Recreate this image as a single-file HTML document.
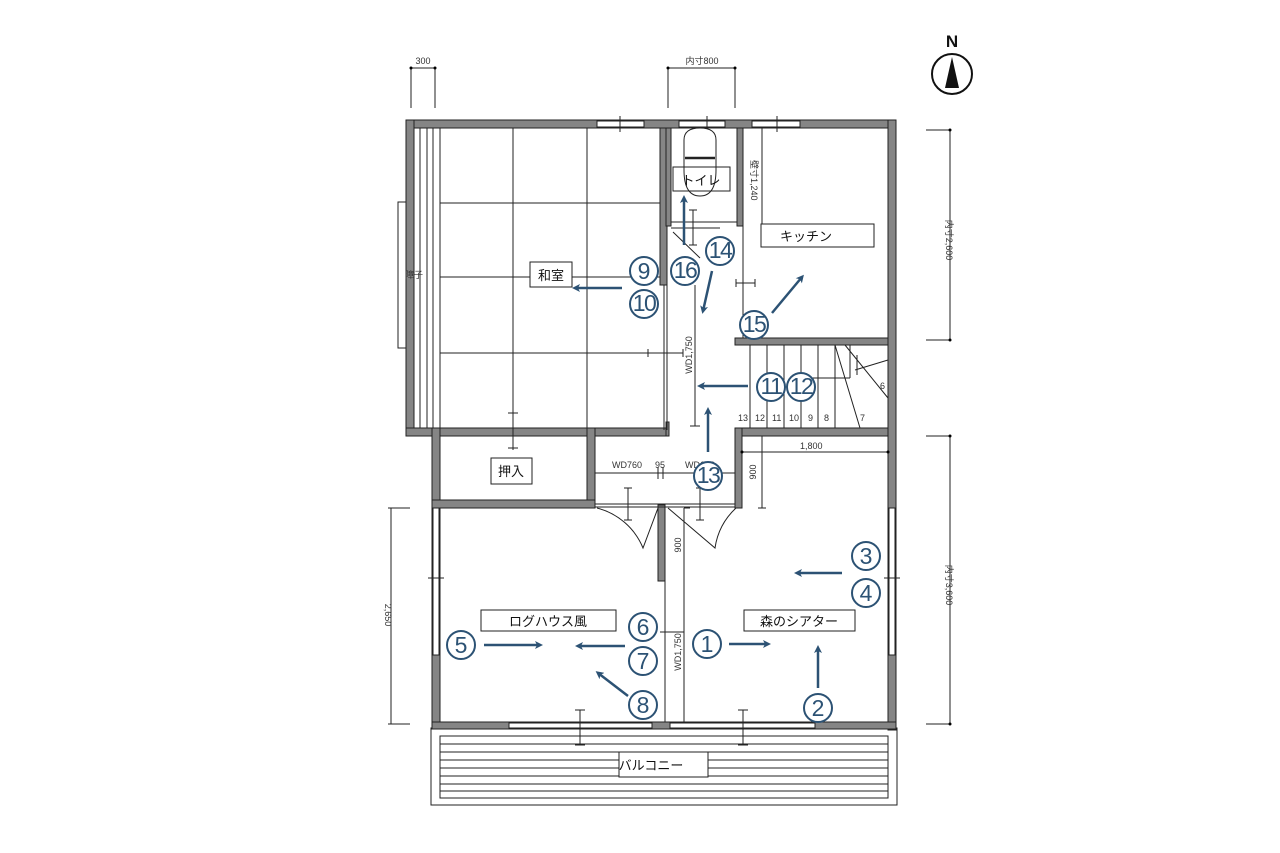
<!DOCTYPE html>
<html><head><meta charset="utf-8"><style>
html,body{margin:0;padding:0;background:#fff;width:1280px;height:853px;overflow:hidden}
svg{display:block}
text{font-family:"Liberation Sans","Noto Sans CJK JP",sans-serif}
.w{fill:#858585;stroke:#222;stroke-width:1}
.l{stroke:#222;stroke-width:1;fill:none}
.c circle{fill:#fff;stroke:#2c5274;stroke-width:2}
.c text{fill:#2c5274;font-size:23px;text-anchor:middle}
.a{stroke:#2c5274;stroke-width:2.5;fill:none;marker-end:url(#ah)}
.lb{fill:#fff;stroke:#222;stroke-width:1}
.t{font-size:13px;fill:#111;text-anchor:middle}
.d{font-size:9px;fill:#333}
</style></head><body>
<svg width="1280" height="853" viewBox="0 0 1280 853" xmlns="http://www.w3.org/2000/svg">
<defs><marker id="ah" markerWidth="8" markerHeight="8" refX="5" refY="4" orient="auto" markerUnits="userSpaceOnUse"><path d="M0,0 L8,4 L0,8 L2,4 Z" fill="#2c5274"/></marker></defs>

<g class="l"><path d="M411,68V108 M435,68V108 M411,68H435 M668,68V108 M735,68V108 M668,68H735"/></g>
<circle cx="411" cy="68" r="1.5"/><circle cx="435" cy="68" r="1.5"/><circle cx="668" cy="68" r="1.5"/><circle cx="735" cy="68" r="1.5"/>
<text x="423" y="64" class="d" text-anchor="middle">300</text>
<text x="702" y="64" class="d" text-anchor="middle">内寸800</text>
<circle cx="952" cy="74" r="20" fill="#fff" stroke="#111" stroke-width="2"/>
<path d="M952,57 L945,88 L959,88 Z" fill="#111"/>
<text x="952" y="47" font-size="17" font-weight="bold" text-anchor="middle" fill="#111">N</text>
<g class="l"><path d="M926,130H950 M950,130V340 M926,340H950 M926,436H950 M950,436V724 M926,724H950 M388,508H410 M391,508V724 M388,724H410"/></g>
<circle cx="950" cy="130" r="1.5"/><circle cx="950" cy="340" r="1.5"/><circle cx="950" cy="436" r="1.5"/><circle cx="950" cy="724" r="1.5"/>
<text class="d" transform="translate(946,240) rotate(90)" text-anchor="middle">内寸2,600</text>
<text class="d" transform="translate(946,585) rotate(90)" text-anchor="middle">内寸3,600</text>
<text class="d" transform="translate(385,615) rotate(90)" text-anchor="middle">2,650</text>

<rect x="431" y="728" width="466" height="77" fill="#fff" stroke="#222"/>
<rect x="440" y="736" width="448" height="62" fill="#fff" stroke="#222"/>
<g class="l"><path d="M440,744H888 M440,752H888 M440,760H888 M440,768H888 M440,776H888 M440,784H888 M440,791H888"/></g>

<g class="w">
<rect x="406" y="120" width="490" height="8"/>
<rect x="406" y="120" width="8" height="316"/>
<rect x="888" y="120" width="8" height="610"/>
<rect x="406" y="428" width="34" height="8"/>
<rect x="432" y="428" width="8" height="300"/>
<rect x="432" y="722" width="464" height="7"/>
<rect x="660" y="128" width="7" height="157"/>
<rect x="666" y="128" width="5" height="98"/>
<rect x="737" y="128" width="6" height="98"/>
<rect x="666" y="422" width="3" height="14"/>
<rect x="440" y="428" width="226" height="8"/>
<rect x="735" y="338" width="153" height="7"/>
<rect x="735" y="428" width="153" height="8"/>
<rect x="735" y="428" width="7" height="80"/>
<rect x="587" y="428" width="8" height="80"/>
<rect x="595" y="428" width="71" height="8"/>
<rect x="432" y="500" width="163" height="8"/>
<rect x="658" y="505" width="7" height="76"/>
</g>
<g fill="#fff" stroke="#222">
<rect x="597" y="121" width="47" height="6"/><rect x="679" y="121" width="46" height="6"/><rect x="752" y="121" width="48" height="6"/>
<rect x="889" y="508" width="6" height="147"/><rect x="433" y="508" width="6" height="147"/>
<rect x="509" y="723" width="143" height="5"/><rect x="670" y="723" width="145" height="5"/>
</g>
<rect x="398" y="202" width="8" height="146" fill="#fff" stroke="#222"/>
<g class="l"><path d="M620,116V132 M707,116V132 M777,116V132 M884,578H900 M428,578H444 M580,710V745 M575,710H585 M575,745H585 M743,710V745 M738,710H748 M738,745H748"/></g>

<g class="l">
<path d="M420,128V428 M427,128V428 M433,128V428 M440,128V428"/>
<path d="M513,128V428 M587,128V428 M440,203H660 M440,277H660 M440,353H660"/>
<path d="M667,285V430 M664,285V430"/>
<path d="M648,353H683 M648,349V357 M683,349V357 M513,413V450 M508,413H518 M508,448H518"/>
</g>
<text x="405" y="278" class="d">障子</text>

<g class="l">
<path d="M671,222H737 M671,228H720 M671,222V226"/>
<path d="M684,140 Q684,128 700,128 Q716,128 716,140 L716,170 Q716,196 700,196 Q684,196 684,170 Z" fill="#fff"/>
<path d="M685,158H715" stroke-width="2.5"/>
<path d="M693,210V245 M689,210H697 M689,245H697"/>
<path d="M673,232 L700,258"/>
</g>
<rect x="673" y="167" width="57" height="24" fill="none" stroke="#222"/>
<text x="701" y="185" class="t" fill="#777">トイレ</text>
<text class="d" transform="translate(751,160) rotate(90)">壁寸1,240</text>
<g class="l"><path d="M762,128V230 M736,283H755 M736,279V287 M755,279V287 M743,226V338"/></g>
<circle cx="762" cy="230" r="1.5"/>

<g class="l"><path d="M695,285V426 M690,426H700"/></g>
<text class="d" transform="translate(692,355) rotate(-90)" text-anchor="middle">WD1,750</text>

<g class="l">
<path d="M750,345V428 M767,345V428 M784,345V428 M801,345V428 M818,345V428 M835,345V428 M850,345V378 M850,378H790"/>
<path d="M835,345 L860,428 M845,345 L888,398 M855,370 L888,360 M857,355V375"/>
</g>
<g class="d" font-size="7"><text x="738" y="421">13</text><text x="755" y="421">12</text><text x="772" y="421">11</text><text x="789" y="421">10</text><text x="808" y="421">9</text><text x="824" y="421">8</text><text x="860" y="421">7</text><text x="880" y="389">6</text></g>

<g class="l"><path d="M595,473H735 M658,467V479 M663,467V479 M628,488V520 M624,488H632 M624,520H632 M700,488V520 M696,488H704 M696,520H704"/>
<path d="M742,452H888 M762,436V508 M758,508H766"/>
<path d="M595,504H735 M595,507H735"/>
<path d="M597,508 A68,68 0 0 1 643,548 L658,508 M736,508 A68,68 0 0 0 715,548 L668,508"/>
<path d="M665,508V722 M684,508V722 M660,632H684 M684,508H690"/>
</g>
<circle cx="742" cy="452" r="1.5"/><circle cx="888" cy="452" r="1.5"/>
<text x="612" y="468" class="d">WD760</text><text x="655" y="468" class="d">95</text><text x="685" y="468" class="d">WD650</text>
<text x="800" y="449" class="d">1,800</text>
<text class="d" transform="translate(756,472) rotate(-90)" text-anchor="middle">900</text>
<text class="d" transform="translate(681,545) rotate(-90)" text-anchor="middle">900</text>
<text class="d" transform="translate(681,652) rotate(-90)" text-anchor="middle">WD1,750</text>

<rect x="530" y="262" width="42" height="25" class="lb"/><text x="551" y="280" class="t" fill="#666">和室</text>
<rect x="761" y="224" width="113" height="23" class="lb"/><text x="806" y="241" class="t">キッチン</text>
<rect x="491" y="458" width="41" height="26" class="lb"/><text x="511" y="476" class="t" fill="#666">押入</text>
<rect x="481" y="610" width="135" height="21" class="lb"/><text x="548" y="626" class="t">ログハウス風</text>
<rect x="744" y="610" width="111" height="21" class="lb"/><text x="799" y="626" class="t">森のシアター</text>
<rect x="619" y="752" width="89" height="25" class="lb"/><text x="651" y="770" class="t" fill="#666">バルコニー</text>

<g>
<path class="a" d="M729,644H768"/><path class="a" d="M818,688V648"/><path class="a" d="M842,573H797"/>
<path class="a" d="M484,645H540"/><path class="a" d="M625,646H578"/><path class="a" d="M628,696L598,673"/>
<path class="a" d="M622,288H575"/><path class="a" d="M748,386H700"/><path class="a" d="M708,452V410"/>
<path class="a" d="M712,271L703,311"/><path class="a" d="M772,313L802,277"/><path class="a" d="M684,245V198"/>
</g>
<g class="c">
<g><circle cx="707" cy="644" r="14"/><text x="707" y="652">1</text></g>
<g><circle cx="818" cy="708" r="14"/><text x="818" y="716">2</text></g>
<g><circle cx="866" cy="556" r="14"/><text x="866" y="564">3</text></g>
<g><circle cx="866" cy="593" r="14"/><text x="866" y="601">4</text></g>
<g><circle cx="461" cy="645" r="14"/><text x="461" y="653">5</text></g>
<g><circle cx="643" cy="627" r="14"/><text x="643" y="635">6</text></g>
<g><circle cx="643" cy="661" r="14"/><text x="643" y="669">7</text></g>
<g><circle cx="643" cy="705" r="14"/><text x="643" y="713">8</text></g>
<g><circle cx="644" cy="271" r="14"/><text x="644" y="279">9</text></g>
<g><circle cx="644" cy="304" r="14"/><text x="644" y="311" font-size="18" letter-spacing="-1.5">10</text></g>
<g><circle cx="771" cy="387" r="14"/><text x="771" y="394" font-size="18" letter-spacing="-1.5">11</text></g>
<g><circle cx="801" cy="387" r="14"/><text x="801" y="394" font-size="18" letter-spacing="-1.5">12</text></g>
<g><circle cx="708" cy="476" r="14"/><text x="708" y="483" font-size="18" letter-spacing="-1.5">13</text></g>
<g><circle cx="720" cy="251" r="14"/><text x="720" y="258" font-size="18" letter-spacing="-1.5">14</text></g>
<g><circle cx="754" cy="325" r="14"/><text x="754" y="332" font-size="18" letter-spacing="-1.5">15</text></g>
<g><circle cx="685" cy="271" r="14"/><text x="685" y="278" font-size="18" letter-spacing="-1.5">16</text></g>
</g>
</svg>
</body></html>
